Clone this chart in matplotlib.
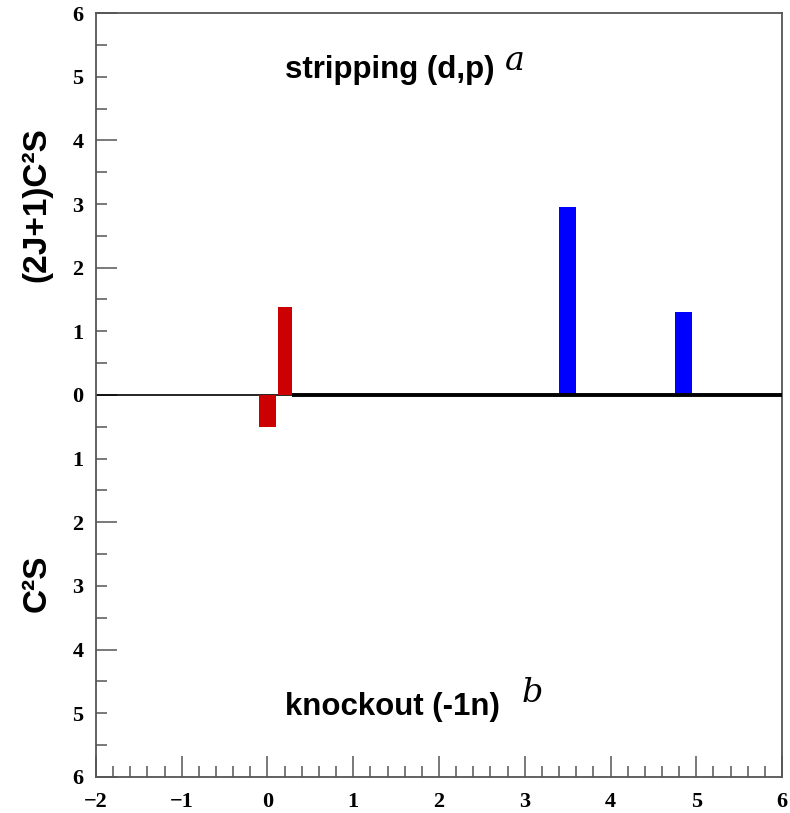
import matplotlib
matplotlib.use("Agg")
import matplotlib.pyplot as plt
from matplotlib.ticker import MultipleLocator, FuncFormatter

plt.rcParams["font.family"] = "Liberation Serif"
plt.rcParams["font.weight"] = "bold"

# Spectroscopic strengths per level (excitation energy in MeV)
strip_x = [0.2, 3.5, 4.85]
strip_val = [1.38, 2.95, 1.31]
strip_width = [0.165, 0.2, 0.2]
strip_color = ["#cc0000", "#0000ff", "#0000ff"]

knock_x = [0.0]
knock_val = [0.5]
knock_width = [0.2]
knock_color = ["#cc0000"]

# Baseline segments: thin below the observed range, thick above it
thin_base = [-2.0, 0.28]
thick_base = [0.28, 6.0]

x_range = [-2, 6]
y_range = [-6, 6]

fig = plt.figure(figsize=(7.9, 8.13), dpi=100)
ax = fig.add_axes([0.1215, 0.0443, 0.8684, 0.9397])

ax.bar(strip_x, strip_val, width=strip_width, color=strip_color, zorder=3)
ax.bar(knock_x, [-v for v in knock_val], width=knock_width, color=knock_color, zorder=3)

ax.plot(thin_base, [0, 0], color="black", lw=1.2, zorder=2)
ax.plot(thick_base, [0, 0], color="black", lw=2.8, zorder=4, solid_capstyle="butt")

ax.set_xlim(*x_range)
ax.set_ylim(*y_range)

spine_col = "#555555"
for s in ax.spines.values():
    s.set_color(spine_col)
    s.set_linewidth(1.3)

# x axis: long ticks on integers, short every 0.2
ax.xaxis.set_major_locator(MultipleLocator(1))
ax.xaxis.set_minor_locator(MultipleLocator(0.2))
ax.xaxis.set_major_formatter(FuncFormatter(lambda v, p: f"{v:.0f}".replace("-", "\u2212")))

# y axis: long ticks on even values, short every 0.5, labels on all integers
ax.yaxis.set_major_locator(MultipleLocator(2))
ax.yaxis.set_minor_locator(MultipleLocator(0.5))
ax.yaxis.set_major_formatter(FuncFormatter(lambda v, p: f"{abs(v):.0f}"))
ax.yaxis.set_minor_formatter(
    FuncFormatter(lambda v, p: f"{abs(v):.0f}" if abs(v - round(v)) < 1e-6 else ""))

ax.tick_params(axis="both", which="both", direction="in", color=spine_col,
               width=1.1, labelsize=16, top=False, right=False)
ax.tick_params(axis="both", which="major", length=15)
ax.tick_params(axis="both", which="minor", length=8)
ax.tick_params(axis="y", which="both", pad=9)
ax.tick_params(axis="x", which="both", pad=11)

sans = "Liberation Sans"
ax.text(0.2, 4.98, "stripping (d,p)", fontsize=22.5, fontweight="bold",
        family=sans, ha="left", va="baseline")
ax.text(2.88, 5.25, "a", fontsize=24, style="italic", fontweight="normal",
        family="DejaVu Serif", ha="center", va="center")
ax.text(0.2, -5.03, "knockout (-1n)", fontsize=22.5, fontweight="bold",
        family=sans, ha="left", va="baseline")
ax.text(3.09, -4.68, "b", fontsize=24, style="italic", fontweight="normal",
        family="DejaVu Serif", ha="center", va="center")

fig.text(0.047, 0.7485, "(2J+1)C\u00b2S", rotation=90, fontsize=24, fontweight="bold",
         family=sans, ha="center", va="center")
fig.text(0.047, 0.283, "C\u00b2S", rotation=90, fontsize=24, fontweight="bold",
         family=sans, ha="center", va="center")

fig.savefig("out.png", dpi=100)
